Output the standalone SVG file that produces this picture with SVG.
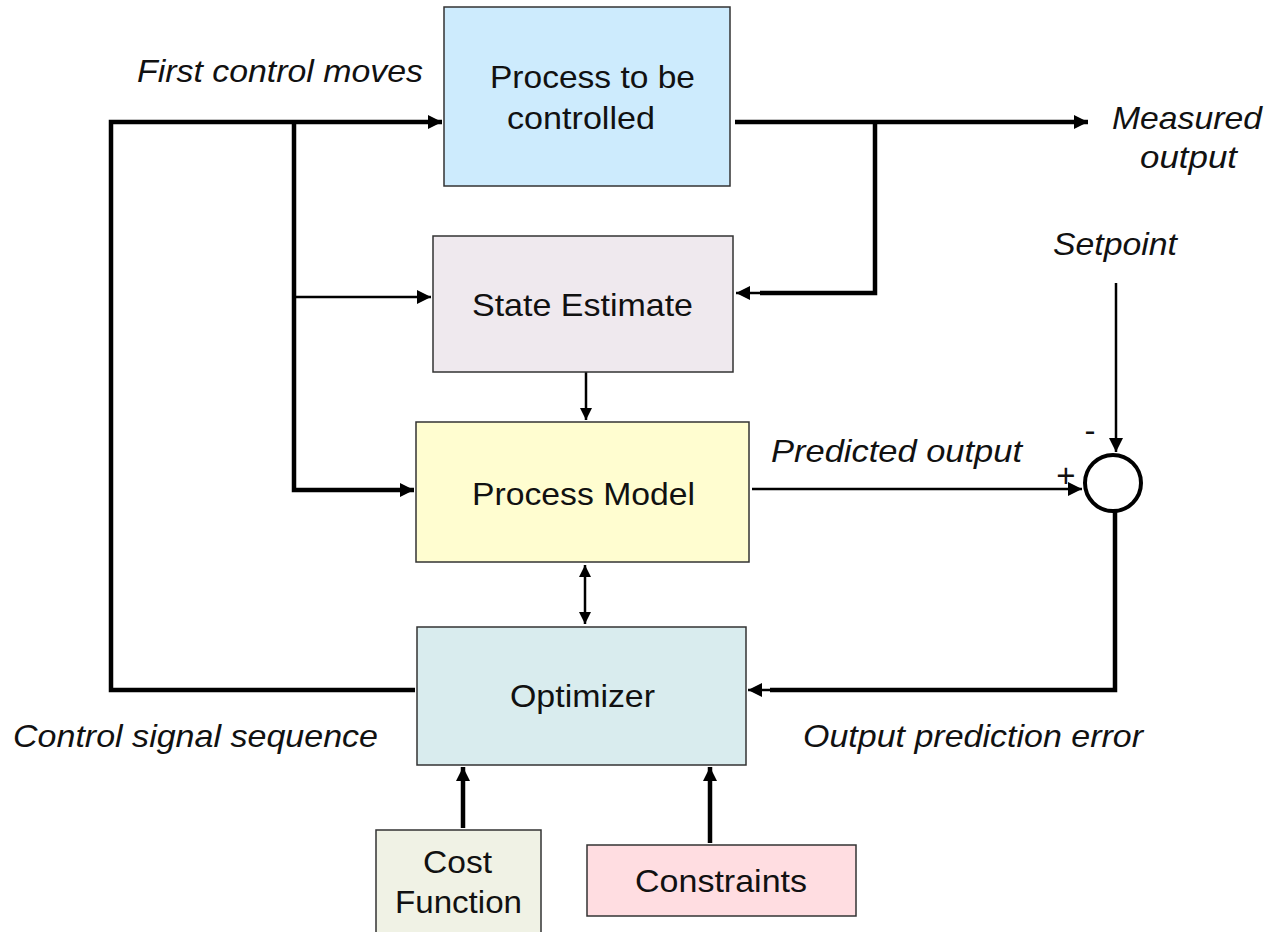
<svg xmlns="http://www.w3.org/2000/svg" width="1270" height="932" viewBox="0 0 1270 932">
  <style>
    .box { stroke: #333; stroke-width: 1.5; }
    .lbl { font-family: "Liberation Sans", Arial, sans-serif; font-size: 32px; fill: #111; }
    .it { font-family: "Liberation Sans", Arial, sans-serif; font-size: 32px; font-style: italic; fill: #111; }
    .sign { font-family: "Liberation Sans", Arial, sans-serif; font-size: 33px; fill: #111; text-anchor: middle; }
    .thick { stroke: #000; stroke-width: 4.5; fill: none; }
    .thin { stroke: #000; stroke-width: 2.5; fill: none; }
  </style>
  <defs>
    <marker id="ah" viewBox="0 0 10 10" refX="10" refY="5" markerWidth="24" markerHeight="14" markerUnits="userSpaceOnUse" orient="auto-start-reverse">
      <path d="M0,0 L10,5 L0,10 z" fill="#000"/>
    </marker>
    <marker id="ahs" viewBox="0 0 10 10" refX="10" refY="5" markerWidth="18" markerHeight="12" markerUnits="userSpaceOnUse" orient="auto-start-reverse">
      <path d="M0,0 L10,5 L0,10 z" fill="#000"/>
    </marker>
  </defs>

  <rect width="1270" height="932" fill="#fff"/>

  <g id="connectors">
    <!-- control sequence loop -->
    <polyline class="thick" points="415,690 111,690 111,122 442,122" marker-end="url(#ah)"/>
    <polyline class="thick" points="294,122 294,490 414,490" marker-end="url(#ah)"/>
    <line class="thin" x1="294" y1="297" x2="431" y2="297" marker-end="url(#ah)"/>
    <!-- measured output and feedback to estimator -->
    <line class="thick" x1="735" y1="122" x2="1088" y2="122" marker-end="url(#ah)"/>
    <polyline class="thick" points="875,122 875,293 760,293"/>
    <line class="thin" x1="762" y1="293" x2="736" y2="293" marker-end="url(#ah)"/>
    <!-- estimator to model -->
    <line class="thin" x1="586" y1="372" x2="586" y2="420" marker-end="url(#ahs)"/>
    <!-- model to optimizer, both ways -->
    <line class="thin" x1="585" y1="565" x2="585" y2="624" marker-start="url(#ahs)" marker-end="url(#ahs)"/>
    <!-- predicted output and setpoint into the summing junction -->
    <line class="thin" x1="752" y1="489" x2="1082" y2="489" marker-end="url(#ah)"/>
    <line class="thin" x1="1116" y1="283" x2="1116" y2="452" marker-end="url(#ah)"/>
    <!-- prediction error back to optimizer -->
    <polyline class="thick" points="1115,512 1115,690 770,690"/>
    <line class="thin" x1="772" y1="690" x2="748" y2="690" marker-end="url(#ah)"/>
    <!-- cost function and constraints -->
    <line class="thick" x1="463" y1="828" x2="463" y2="767" marker-end="url(#ah)"/>
    <line class="thick" x1="710" y1="843" x2="710" y2="767" marker-end="url(#ah)"/>
  </g>

  <g id="process">
    <rect class="box" x="444" y="7" width="286" height="179" fill="#cdebfd"/>
    <text class="lbl" x="490" y="88" textLength="205" lengthAdjust="spacingAndGlyphs">Process to be</text>
    <text class="lbl" x="507" y="129" textLength="148" lengthAdjust="spacingAndGlyphs">controlled</text>
  </g>

  <g id="state-estimate">
    <rect class="box" x="433" y="236" width="300" height="136" fill="#efe9ee"/>
    <text class="lbl" x="472" y="316" textLength="221" lengthAdjust="spacingAndGlyphs">State Estimate</text>
  </g>

  <g id="process-model">
    <rect class="box" x="416" y="422" width="333" height="140" fill="#fffdd0"/>
    <text class="lbl" x="472" y="505" textLength="223" lengthAdjust="spacingAndGlyphs">Process Model</text>
  </g>

  <g id="optimizer">
    <rect class="box" x="417" y="627" width="329" height="138" fill="#d9ecee"/>
    <text class="lbl" x="510" y="707" textLength="145" lengthAdjust="spacingAndGlyphs">Optimizer</text>
  </g>

  <g id="cost-function">
    <rect class="box" x="376" y="830" width="165" height="110" fill="#f0f2e5"/>
    <text class="lbl" x="423" y="873" textLength="69" lengthAdjust="spacingAndGlyphs">Cost</text>
    <text class="lbl" x="395" y="913" textLength="127" lengthAdjust="spacingAndGlyphs">Function</text>
  </g>

  <g id="constraints">
    <rect class="box" x="587" y="845" width="269" height="71" fill="#ffdde1"/>
    <text class="lbl" x="635" y="892" textLength="172" lengthAdjust="spacingAndGlyphs">Constraints</text>
  </g>

  <g id="sum">
    <circle cx="1113" cy="483" r="28" fill="#fff" stroke="#000" stroke-width="4"/>
    <text class="sign" x="1090" y="442">-</text>
    <text class="sign" x="1066" y="487">+</text>
  </g>

  <g id="labels">
    <text class="it" x="137" y="82" textLength="286" lengthAdjust="spacingAndGlyphs">First control moves</text>
    <text class="it" x="1112" y="129" textLength="150" lengthAdjust="spacingAndGlyphs">Measured</text>
    <text class="it" x="1140" y="168" textLength="97" lengthAdjust="spacingAndGlyphs">output</text>
    <text class="it" x="1053" y="255" textLength="124" lengthAdjust="spacingAndGlyphs">Setpoint</text>
    <text class="it" x="771" y="462" textLength="251" lengthAdjust="spacingAndGlyphs">Predicted output</text>
    <text class="it" x="13" y="747" textLength="365" lengthAdjust="spacingAndGlyphs">Control signal sequence</text>
    <text class="it" x="803" y="747" textLength="340" lengthAdjust="spacingAndGlyphs">Output prediction error</text>
  </g>
</svg>
